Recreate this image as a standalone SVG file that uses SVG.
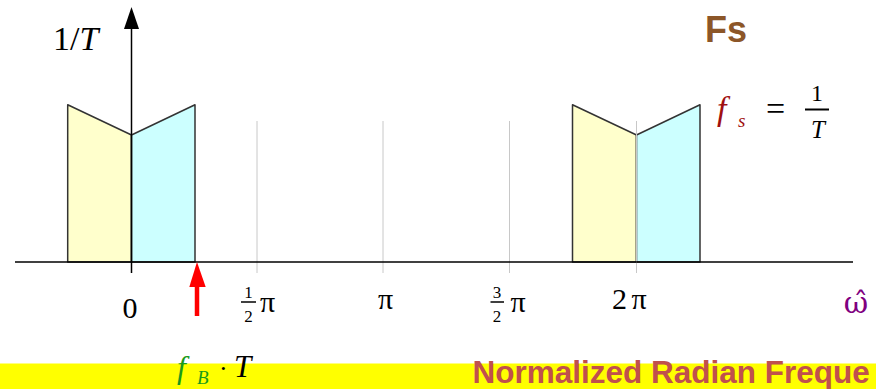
<svg xmlns="http://www.w3.org/2000/svg" width="876" height="389" viewBox="0 0 876 389">
<style>
.serif{font-family:"Liberation Serif","Times New Roman",serif;}
.it{font-style:italic;}
.sans{font-family:"Liberation Sans",Arial,sans-serif;font-weight:bold;}
.grid{stroke:#c8c8c8;stroke-width:1;}
.yel{fill:#ffffcc;stroke:#333;stroke-width:1.5;stroke-linejoin:round;}
.cya{fill:#ccffff;stroke:#333;stroke-width:1.5;stroke-linejoin:round;}
</style>
<rect x="0" y="0" width="876" height="389" fill="#fff"/>
<rect id="band" x="0" y="363.5" width="876" height="25.5" fill="#ffff00"/>
<g id="grid">
<line class="grid" x1="257" y1="121" x2="257" y2="273"/>
<line class="grid" x1="383" y1="121" x2="383" y2="273"/>
<line class="grid" x1="509.5" y1="121" x2="509.5" y2="273"/>
</g>
<g id="spectrum0">
<polygon class="yel" points="67.7,262 67.7,104.7 131.5,135 131.5,262"/>
<polygon class="cya" points="131.5,135 195,104.7 195,262 131.5,262"/>
</g>
<g id="spectrum2pi">
<polygon class="yel" points="572.5,262 572.5,104.7 636.5,135 636.5,262"/>
<polygon class="cya" points="636.5,135 700,104.7 700,262 636.5,262"/>
<line class="grid" x1="636.5" y1="121" x2="636.5" y2="273" stroke="#aaa"/>
</g>
<g id="connectors">
<line x1="15" y1="262" x2="853" y2="262" stroke="#000" stroke-width="1.5"/>
<line x1="131.5" y1="273" x2="131.5" y2="27" stroke="#000" stroke-width="1.5"/>
<polygon points="131.5,7 124,29 139,29" fill="#000"/>
<line x1="197" y1="284" x2="197" y2="316" stroke="#ff0000" stroke-width="4.5"/>
<polygon points="197,262 189.3,287 205.7,287" fill="#ff0000"/>
</g>
<g id="ylabel">
<text class="serif" x="53" y="50" font-size="34">1/<tspan class="it">T</tspan></text>
</g>
<g id="fs-title">
<text class="sans" x="726" y="41.5" font-size="36" fill="#8c5628" text-anchor="middle">Fs</text>
</g>
<g id="fs-eq">
<text class="serif it" x="717" y="120" font-size="34" fill="#a01010">f</text>
<text class="serif it" x="738" y="127" font-size="19" fill="#a01010">s</text>
<text class="serif" x="766" y="120" font-size="34">=</text>
<text class="serif" x="817" y="100.5" font-size="24" text-anchor="middle">1</text>
<line x1="805" y1="109.5" x2="829" y2="109.5" stroke="#000" stroke-width="2"/>
<text class="serif it" x="818" y="138" font-size="25" text-anchor="middle">T</text>
</g>
<g id="ticklabels" class="serif">
<text x="130" y="318" font-size="30" text-anchor="middle">0</text>
<text x="248.5" y="298" font-size="17" text-anchor="middle">1</text>
<line x1="241" y1="302" x2="256" y2="302" stroke="#000" stroke-width="1.5"/>
<text x="248.5" y="322" font-size="17" text-anchor="middle">2</text>
<text x="260" y="312" font-size="30">π</text>
<text x="385.5" y="309" font-size="30" text-anchor="middle">π</text>
<text x="497" y="298" font-size="17" text-anchor="middle">3</text>
<line x1="490.5" y1="302" x2="504" y2="302" stroke="#000" stroke-width="1.5"/>
<text x="497" y="322" font-size="17" text-anchor="middle">2</text>
<text x="510.5" y="312" font-size="30">π</text>
<text x="612" y="308.5" font-size="30">2</text>
<text x="631.5" y="308.5" font-size="30">π</text>
</g>
<g id="omega">
<text x="856" y="313" font-size="30" fill="#800080" text-anchor="middle" font-family="'DejaVu Serif',serif">ω̂</text>
</g>
<g id="fbT">
<text class="serif it" x="177" y="378" font-size="32" fill="#1a9a1a">f</text>
<text class="serif it" x="197" y="384" font-size="19" fill="#1a9a1a">B</text>
<text class="serif" x="219" y="377" font-size="26">·</text>
<text class="serif it" x="234" y="377" font-size="31">T</text>
</g>
<g id="xlabel">
<text class="sans" x="472.5" y="382.5" font-size="31.5" fill="#c0504d">Normalized Radian Freque</text>
</g>
</svg>
